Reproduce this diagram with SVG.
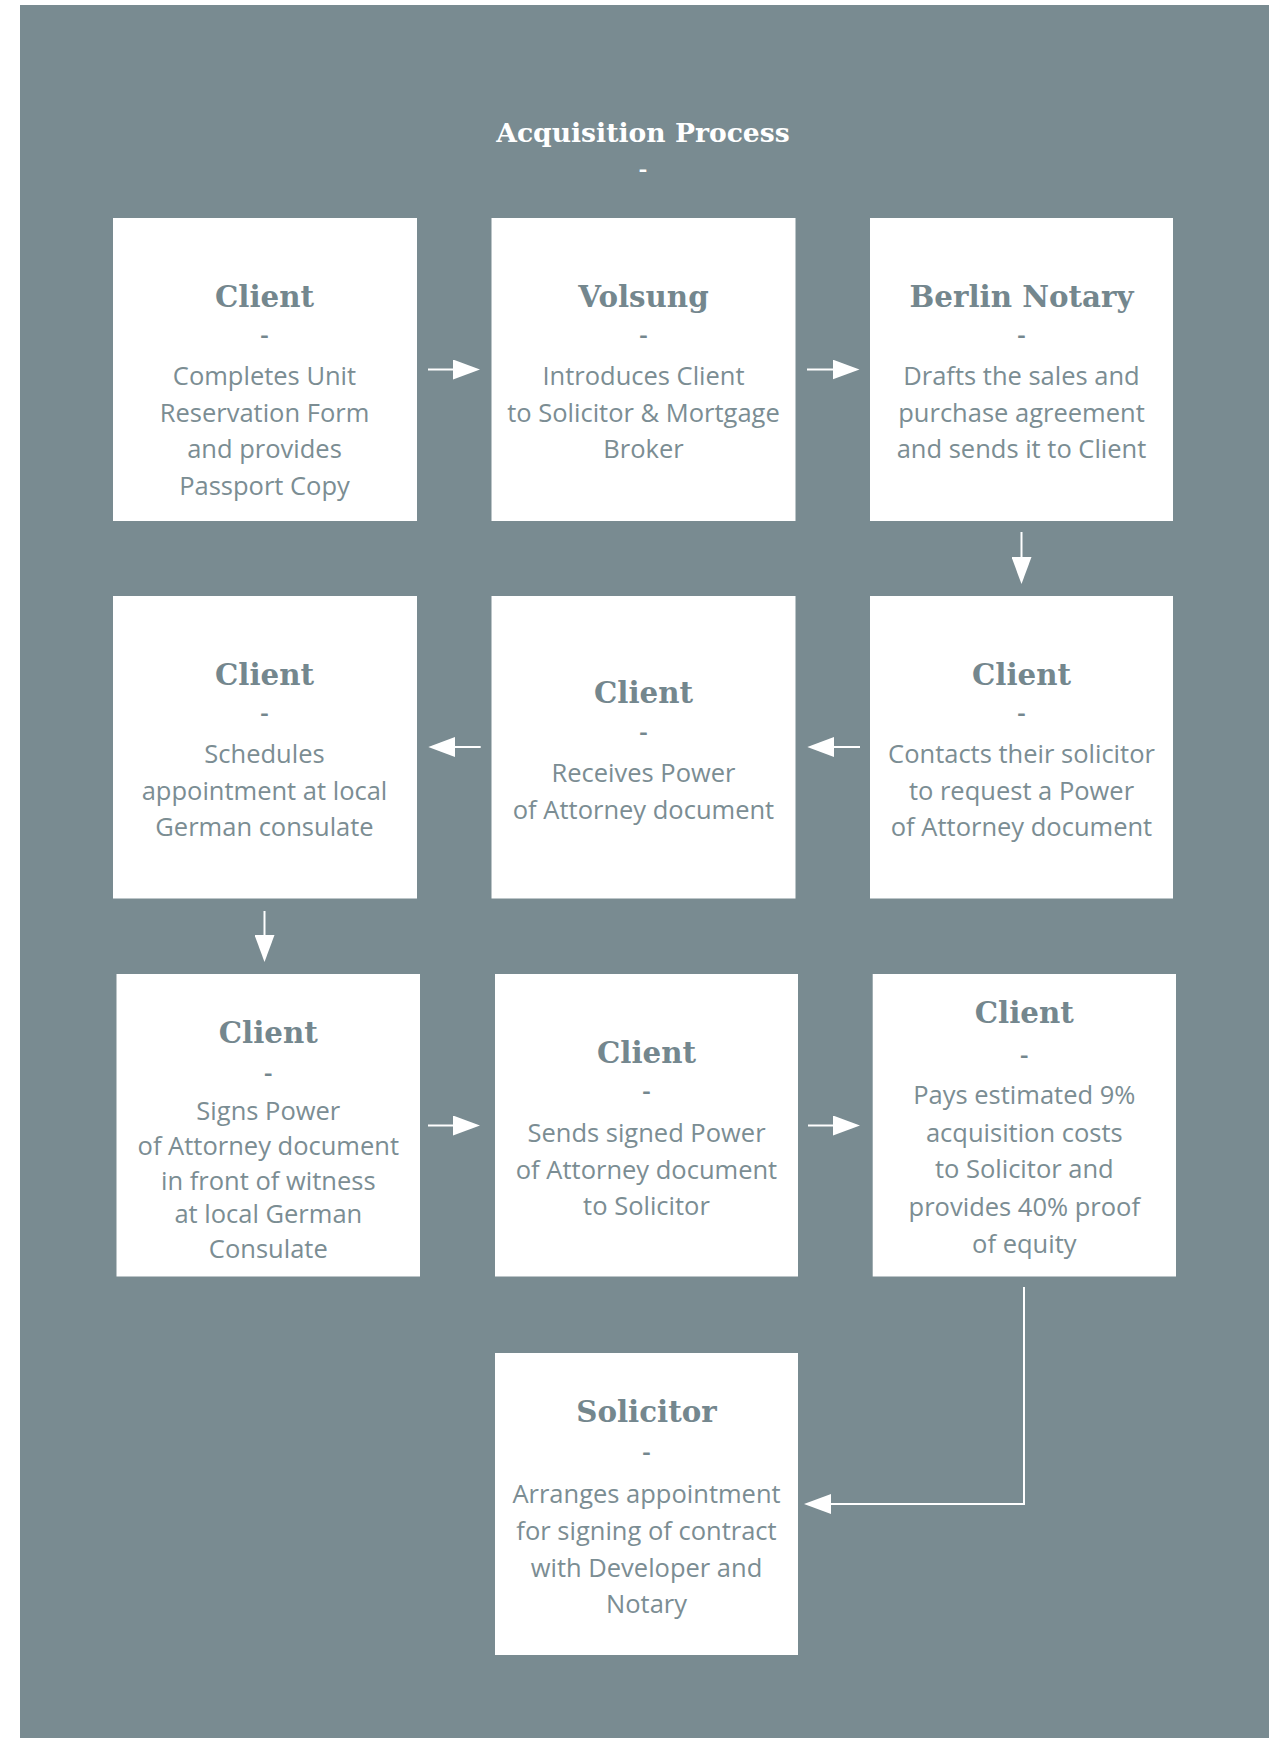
<svg xmlns="http://www.w3.org/2000/svg" width="1283" height="1738" viewBox="0 0 1283 1738">
<style>
.bg{fill:#798b91}
.box{fill:#ffffff}
.head{font-family:"DejaVu Serif","Liberation Serif",serif;font-weight:bold;font-size:29.3px;fill:#74878e;text-anchor:middle}
.main{font-family:"DejaVu Serif","Liberation Serif",serif;font-weight:bold;font-size:26.6px;fill:#ffffff;text-anchor:middle}
.body{font-family:"Open Sans","Liberation Sans",sans-serif;font-weight:400;font-size:25.5px;fill:#7b8d93;text-anchor:middle}
.dash{font-family:"Open Sans","Liberation Sans",sans-serif;font-weight:600;font-size:26px;fill:#74878e;text-anchor:middle}
.wdash{font-family:"Open Sans","Liberation Sans",sans-serif;font-weight:600;font-size:26px;fill:#ffffff;text-anchor:middle}
.conn{stroke:#ffffff;stroke-width:2;fill:none}
</style>
<defs>
<marker id="ah" markerUnits="userSpaceOnUse" markerWidth="27" markerHeight="20" refX="23" refY="10" orient="auto">
<path d="M0,0 L27,10 L0,20 z" fill="#ffffff"/>
</marker>
</defs>
<rect class="bg" x="20" y="5" width="1249" height="1733"/>
<g id="title">
<text class="main" x="643" y="141.7">Acquisition Process</text>
<text class="wdash" x="643" y="178">-</text>
</g>
<g id="connectors">
<line class="conn" x1="428" y1="369.5" x2="476" y2="369.5" marker-end="url(#ah)"/>
<line class="conn" x1="807" y1="369.5" x2="855.5" y2="369.5" marker-end="url(#ah)"/>
<line class="conn" x1="1021.5" y1="532" x2="1021.5" y2="580" marker-end="url(#ah)"/>
<line class="conn" x1="860" y1="747" x2="811.3" y2="747" marker-end="url(#ah)"/>
<line class="conn" x1="480.7" y1="747" x2="432.3" y2="747" marker-end="url(#ah)"/>
<line class="conn" x1="264.5" y1="911" x2="264.5" y2="958" marker-end="url(#ah)"/>
<line class="conn" x1="428" y1="1125.5" x2="476" y2="1125.5" marker-end="url(#ah)"/>
<line class="conn" x1="808" y1="1125.5" x2="856" y2="1125.5" marker-end="url(#ah)"/>
<path class="conn" d="M1024,1287 L1024,1504 L808,1504" marker-end="url(#ah)"/>
</g>
<g id="n1">
<rect class="box" x="113" y="218" width="304" height="303"/>
<text class="head" x="264.5" y="306.7">Client</text>
<text class="dash" x="264.5" y="344">-</text>
<text class="body" x="264.5" y="385">Completes Unit</text>
<text class="body" x="264.5" y="421.7">Reservation Form</text>
<text class="body" x="264.5" y="458.3">and provides</text>
<text class="body" x="264.5" y="495">Passport Copy</text>
</g>
<g id="n2">
<rect class="box" x="491.5" y="218" width="304" height="303"/>
<text class="head" x="643.5" y="306.7">Volsung</text>
<text class="dash" x="643.5" y="344">-</text>
<text class="body" x="643.5" y="385">Introduces Client</text>
<text class="body" x="643.5" y="421.7">to Solicitor &amp; Mortgage</text>
<text class="body" x="643.5" y="458.3">Broker</text>
</g>
<g id="n3">
<rect class="box" x="870" y="218" width="303" height="303"/>
<text class="head" x="1021.5" y="306.7">Berlin Notary</text>
<text class="dash" x="1021.5" y="344">-</text>
<text class="body" x="1021.5" y="385">Drafts the sales and</text>
<text class="body" x="1021.5" y="421.7">purchase agreement</text>
<text class="body" x="1021.5" y="458.3">and sends it to Client</text>
</g>
<g id="n4">
<rect class="box" x="870" y="596" width="303" height="302.5"/>
<text class="head" x="1021.5" y="684.7">Client</text>
<text class="dash" x="1021.5" y="722">-</text>
<text class="body" x="1021.5" y="763">Contacts their solicitor</text>
<text class="body" x="1021.5" y="799.7">to request a Power</text>
<text class="body" x="1021.5" y="836.3">of Attorney document</text>
</g>
<g id="n5">
<rect class="box" x="491.5" y="596" width="304" height="302.5"/>
<text class="head" x="643.5" y="702.7">Client</text>
<text class="dash" x="643.5" y="741">-</text>
<text class="body" x="643.5" y="781.7">Receives Power</text>
<text class="body" x="643.5" y="819.3">of Attorney document</text>
</g>
<g id="n6">
<rect class="box" x="113" y="596" width="304" height="302.5"/>
<text class="head" x="264.5" y="684.7">Client</text>
<text class="dash" x="264.5" y="722">-</text>
<text class="body" x="264.5" y="763">Schedules</text>
<text class="body" x="264.5" y="799.7">appointment at local</text>
<text class="body" x="264.5" y="836.3">German consulate</text>
</g>
<g id="n7">
<rect class="box" x="116.5" y="974" width="303.5" height="302.5"/>
<text class="head" x="268.3" y="1043.3">Client</text>
<text class="dash" x="268.3" y="1082">-</text>
<text class="body" x="268.3" y="1120">Signs Power</text>
<text class="body" x="268.3" y="1155">of Attorney document</text>
<text class="body" x="268.3" y="1190">in front of witness</text>
<text class="body" x="268.3" y="1223.3">at local German</text>
<text class="body" x="268.3" y="1258.3">Consulate</text>
</g>
<g id="n8">
<rect class="box" x="495" y="974" width="303" height="302.5"/>
<text class="head" x="646.5" y="1062.7">Client</text>
<text class="dash" x="646.5" y="1100">-</text>
<text class="body" x="646.5" y="1141.5">Sends signed Power</text>
<text class="body" x="646.5" y="1178.5">of Attorney document</text>
<text class="body" x="646.5" y="1215">to Solicitor</text>
</g>
<g id="n9">
<rect class="box" x="872.7" y="974" width="303.3" height="302.5"/>
<text class="head" x="1024.3" y="1023.3">Client</text>
<text class="dash" x="1024.3" y="1064">-</text>
<text class="body" x="1024.3" y="1104">Pays estimated 9%</text>
<text class="body" x="1024.3" y="1141.7">acquisition costs</text>
<text class="body" x="1024.3" y="1178.3">to Solicitor and</text>
<text class="body" x="1024.3" y="1216">provides 40% proof</text>
<text class="body" x="1024.3" y="1252.7">of equity</text>
</g>
<g id="n10">
<rect class="box" x="495" y="1353" width="303" height="302"/>
<text class="head" x="646.5" y="1421.7">Solicitor</text>
<text class="dash" x="646.5" y="1461">-</text>
<text class="body" x="646.5" y="1503.3">Arranges appointment</text>
<text class="body" x="646.5" y="1540">for signing of contract</text>
<text class="body" x="646.5" y="1576.7">with Developer and</text>
<text class="body" x="646.5" y="1613.3">Notary</text>
</g>
</svg>
